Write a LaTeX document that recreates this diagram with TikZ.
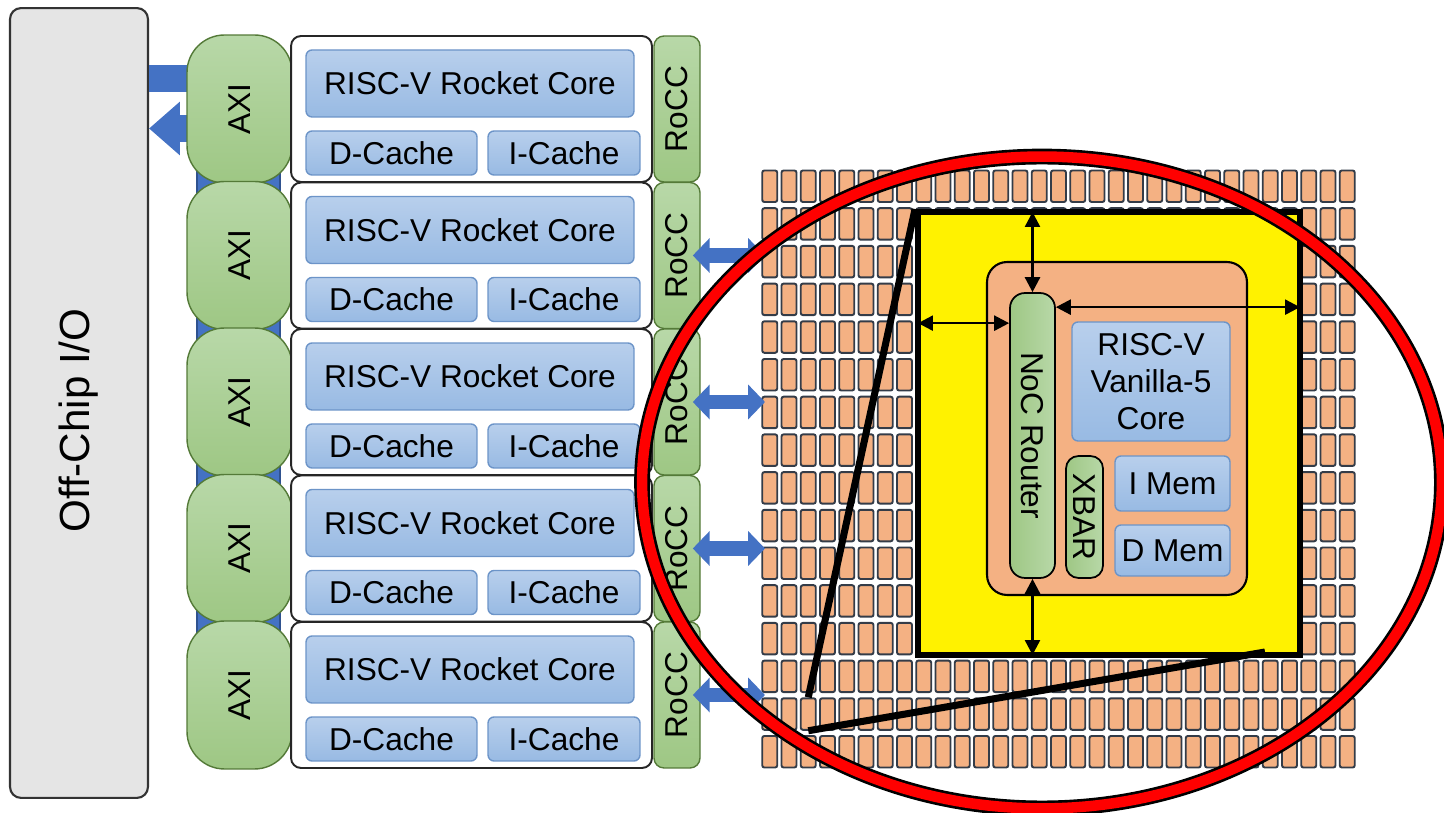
\documentclass[tikz,border=0pt]{standalone}
\usepackage{fontspec}
\setmainfont{Liberation Sans}
\usepackage{tikz}
\usetikzlibrary{arrows.meta,positioning,calc}
\definecolor{iogray}{RGB}{229,229,229}
\definecolor{gnlt}{RGB}{184,216,168}
\definecolor{gndk}{RGB}{158,199,132}
\definecolor{gnedge}{RGB}{84,122,56}
\definecolor{bllt}{RGB}{184,207,236}
\definecolor{bldk}{RGB}{152,186,227}
\definecolor{bledge}{RGB}{108,148,200}
\definecolor{bus}{RGB}{68,114,196}
\definecolor{busedge}{RGB}{47,82,143}
\definecolor{tilec}{RGB}{244,177,131}
\definecolor{tileedge}{RGB}{52,60,72}
\definecolor{ringred}{RGB}{255,0,0}
\newcommand{\labfont}{\fontsize{18}{21}\selectfont}
\newcommand{\iofont}{\fontsize{24}{28}\selectfont}

\begin{document}
\begin{tikzpicture}[x=0.02cm,y=-0.02cm,
    vtext/.style={rotate=90,font=\labfont,inner sep=0pt},
    vtextr/.style={rotate=-90,font=\labfont,inner sep=0pt},
    iobox/.style={draw=black!80,line width=1.2pt,fill=iogray,rounded corners=0.22cm,
                  minimum width=2.76cm,minimum height=15.8cm,inner sep=0pt},
    busbar/.style={draw=busedge,fill=bus,line width=0.8pt,
                   minimum width=1.66cm,minimum height=10.8cm,inner sep=0pt},
    bigarrow/.style={draw=bus,line width=15.3pt,-{Triangle[length=17.6pt,width=29.5pt]}},
    smallarrow/.style={draw=bus,line width=8.5pt,
                       {Triangle[length=9.6pt,width=19.3pt]}-{Triangle[length=9.6pt,width=19.3pt]}},
    axi/.style={draw=gnedge,line width=0.8pt,top color=gnlt,bottom color=gndk,
                rounded corners=0.75cm,minimum width=2.1cm,minimum height=2.96cm,inner sep=0pt},
    rocc/.style={draw=gnedge,line width=0.8pt,top color=gnlt,bottom color=gndk,
                 rounded corners=0.2cm,minimum width=0.92cm,minimum height=2.92cm,inner sep=0pt},
    clbox/.style={draw=black!85,line width=1.1pt,fill=white,rounded corners=0.2cm,
                  minimum width=7.22cm,minimum height=2.92cm,inner sep=0pt},
    blbox/.style={draw=bledge,line width=0.8pt,top color=bllt,bottom color=bldk,
                  rounded corners=0.12cm,inner sep=0pt,font=\labfont},
    tile/.style={draw=tileedge,line width=1.1pt,fill=tilec,rounded corners=1.2pt,
                 minimum width=0.3cm,minimum height=0.63cm,inner sep=0pt},
    zoombox/.style={draw=black,line width=3.4pt,fill=yellow,
                    minimum width=7.64cm,minimum height=8.86cm,inner sep=0pt},
    vtile/.style={draw=black,line width=1.2pt,fill=tilec,rounded corners=0.4cm,
                  minimum width=5.2cm,minimum height=6.66cm,inner sep=0pt},
    router/.style={draw=black,line width=1pt,left color=gndk,right color=gnlt,
                   rounded corners=0.3cm,inner sep=0pt},
    biarrow/.style={line width=1.5pt,shorten >=1.7pt,
                    {Triangle[length=8.5pt,width=8.5pt]}-{Triangle[length=8.5pt,width=8.5pt]}},
    zoomline/.style={line width=4pt}]
    \useasboundingbox (0,0) rectangle (1444,813);
    % off-chip side
    \node[iobox,label={[yshift=-10pt,vtext,font=\iofont]center:Off-Chip I/O}] (io) at (79,403) {};
    \node[busbar] (axibus) at (238.5,425) {};
    \coordinate (inhead) at (228,78.5);
    \coordinate (outtail) at (215,128.5);
    \draw[bigarrow] (io.east |- inhead) -- (inhead);
    \draw[bigarrow] (outtail) -- (io.east |- outtail);
    % rocket tiles
    \foreach \i in {1,...,5}{
      \pgfmathsetmacro{\y}{109+146.5*(\i-1)}
      \node[axi,label={[vtext]center:AXI}] (axi\i) at (239.5,\y) {};
      \node[clbox] (cl\i) at (471.5,\y) {};
      \node[blbox,minimum width=6.56cm,minimum height=1.34cm] (core\i) at (470,\y-25.5) {RISC-V Rocket Core};
      \node[blbox,minimum width=3.42cm,minimum height=0.88cm] (dc\i) at (391.5,\y+44) {D-Cache};
      \node[blbox,minimum width=3.04cm,minimum height=0.88cm] (ic\i) at (564,\y+44) {I-Cache};
      \node[rocc,label={[vtext]center:RoCC}] (rocc\i) at (677,\y) {};
    }
    % vanilla mesh
    \foreach \c in {0,...,30}
      \foreach \r in {0,...,15}
        \node[tile] (t-\c-\r) at ({769.75+19.25*\c},{186.25+37.7*\r}) {};
    \coordinate (meshin) at (765,0);
    \foreach \i in {2,...,5}
      \draw[smallarrow] ([xshift=-4.5pt]rocc\i.east) -- (rocc\i.east -| meshin);
    % zoomed tile
    \node[zoombox] (zb) at (1109,433.5) {};
    \node[vtile] (vt) at (1117,428.5) {};
    \node[router,minimum width=0.9cm,minimum height=5.7cm,
          label={[vtextr]center:NoC Router}] (noc) at (1032.5,435.5) {};
    \node[blbox,minimum width=3.16cm,minimum height=2.38cm,align=center] (vcore) at (1151,381.5)
      {RISC-V\\Vanilla-5\\Core};
    \node[router,rounded corners=0.25cm,minimum width=0.74cm,minimum height=2.44cm,
          label={[vtextr]center:XBAR}] (xbar) at (1084.5,517) {};
    \node[blbox,minimum width=2.3cm,minimum height=1.1cm] (imem) at (1172.5,483.5) {I Mem};
    \node[blbox,minimum width=2.3cm,minimum height=1.02cm] (dmem) at (1172.5,550.5) {D Mem};
    \coordinate (nocl) at ($(noc.north west)+(0,31)$);
    \coordinate (nocr) at ($(noc.north east)+(0,15)$);
    \draw[biarrow] (noc.north) -- (noc.north |- zb.north);
    \draw[biarrow] (noc.south) -- (noc.south |- zb.south);
    \draw[biarrow] (nocl) -- (zb.west |- nocl);
    \draw[biarrow] (nocr) -- (zb.east |- nocr);
    % zoom lines and ring
    \coordinate (zse) at (1265,652);
    \draw[zoomline] (t-2-14.north) -- (zb.north west);
    \draw[zoomline] (t-2-14.south) -- (zse);
    \draw[line width=9pt] (1042,482.5) ellipse [x radius=8cm,y radius=6.52cm];
    \draw[line width=6pt,ringred] (1042,482.5) ellipse [x radius=8cm,y radius=6.52cm];
\end{tikzpicture}
\end{document}
